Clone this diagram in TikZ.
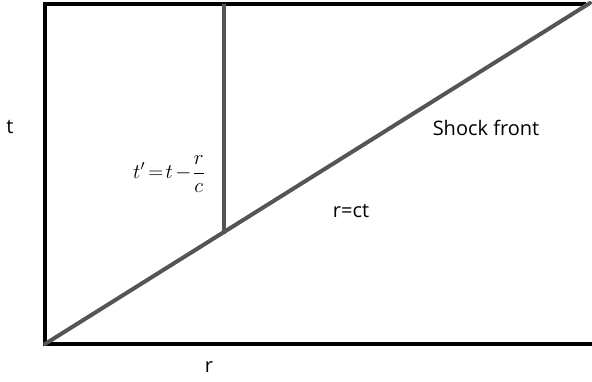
\documentclass[tikz,border=0pt]{standalone}
\usepackage{fontspec}
\setsansfont{Open Sans}
\usepackage{amsmath}
\usetikzlibrary{positioning}
\definecolor{linegray}{RGB}{85,85,85}

\begin{document}
\begin{tikzpicture}[
    x=1pt, y=-1pt,
    frame/.style = {draw=black, line width=3.6pt},
    world/.style = {draw=linegray, line width=4pt},
    lbl/.style = {font=\sffamily\fontsize{20}{22}\selectfont, inner sep=0pt},
  ]
    \useasboundingbox (0,0) rectangle (592,382);

    % Frame corners
    \coordinate (tl) at (45,4);
    \coordinate (tr) at (586,4);
    \coordinate (bl) at (45,344);
    \coordinate (br) at (592,344);

    % Shock front and retarded time line
    \coordinate (front) at (590,3);
    \coordinate (foot)  at (224,234);
    \coordinate (top)   at (224,4);

    % Frame
    \draw[frame] (tr) -- (tl) -- (bl) -- (br);

    % Lines
    \draw[world, line cap=round] (bl) -- (front);
    \draw[world] (top) -- (foot);

    % Labels
    \node[lbl] (tlab)   at (10,127)  {t};
    \node[lbl] (rlab)   at (209,367) {r};
    \node[lbl] (shock)  at (486,128) {Shock front};
    \node[lbl] (rct)    at (351,211) {r=ct};
    \node[font=\fontsize{22}{24}\selectfont, inner sep=0pt] (tprime) at (169,174)
      {$t'\mkern-2mu=\mkern-3mu t\mkern-2mu-\mkern-3mu\dfrac{r}{c}$};
  \end{tikzpicture}
\end{document}
